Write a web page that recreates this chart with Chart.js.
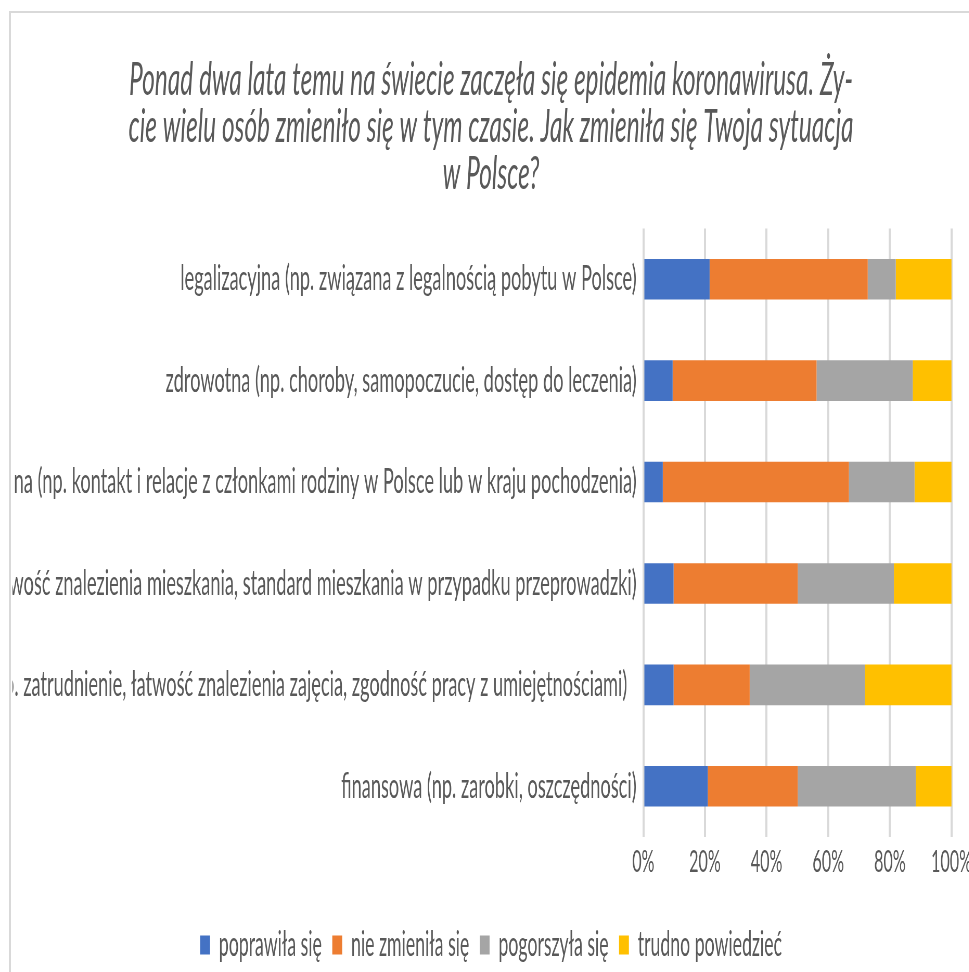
<!DOCTYPE html>
<html>
<head>
<meta charset="utf-8">
<script src="https://cdn.jsdelivr.net/npm/chart.js@4.4.1/dist/chart.umd.min.js"></script>
<style>
html,body{margin:0;padding:0;width:969px;height:972px;overflow:hidden;background:#ffffff;}
#frame{position:absolute;left:9px;top:11px;width:2000px;height:2000px;border-left:2px solid #d9d9d9;border-top:2px solid #d9d9d9;}
#wrap{position:absolute;left:0;top:0;height:972px;transform-origin:0 0;}
</style>
</head>
<body>
<div id="frame"></div>
<div id="wrap"><canvas id="c"></canvas></div>
<script>
// ---- data ----
const categories = [
  "legalizacyjna (np. związana z legalnością pobytu w Polsce)",
  "zdrowotna (np. choroby, samopoczucie, dostęp do leczenia)",
  "rodzinna (np. kontakt i relacje z członkami rodziny w Polsce lub w kraju pochodzenia)",
  "mieszkaniowa (np. łatwość znalezienia mieszkania, standard mieszkania w przypadku przeprowadzki)",
  "zawodowa (np. zatrudnienie, łatwość znalezienia zajęcia, zgodność pracy z umiejętnościami)  ",
  "finansowa (np. zarobki, oszczędności)"
];
const seriesNames = ["poprawiła się", "nie zmieniła się", "pogorszyła się", "trudno powiedzieć"];
const improved   = [21.5,  9.5,  6.3,  9.8,  9.8, 20.9];
const unchanged  = [51.3, 46.7, 60.4, 40.3, 24.7, 29.2];
const worsened   = [ 9.1, 31.2, 21.3, 31.2, 37.4, 38.3];
const hardToSay  = [18.1, 12.6, 12.0, 18.7, 28.1, 11.6];
const xTicks = [0, 20, 40, 60, 80, 100];
const titleLines = [
  "Ponad dwa lata temu na świecie zaczęła się epidemia koronawirusa. Ży-",
  "cie wielu osób zmieniło się w tym czasie. Jak zmieniła się Twoja sytuacja",
  "w Polsce?"
];
const colors = ["#4472C4", "#ED7D31", "#A5A5A5", "#FFC000"];

// ---- layout (horizontal squeeze like the reference) ----
const S = 0.52;
const W = 969 / S;
const wrap = document.getElementById('wrap');
wrap.style.width = W + 'px';
wrap.style.transform = 'scaleX(' + S + ')';

const PAD_LEFT = 24;
const AXIS_X0 = 643 / S;
const AXIS_X1 = 951 / S;

Chart.defaults.font.family = 'Lato';
Chart.defaults.color = '#595959';

const values = [improved, unchanged, worsened, hardToSay];
new Chart(document.getElementById('c'), {
  type: 'bar',
  data: {
    labels: categories,
    datasets: values.map((v, i) => ({
      label: seriesNames[i],
      data: v,
      backgroundColor: colors[i],
      borderWidth: 0,
      barPercentage: 0.4,
      categoryPercentage: 1.0
    }))
  },
  options: {
    indexAxis: 'y',
    responsive: true,
    maintainAspectRatio: false,
    animation: false,
    layout: { padding: { left: PAD_LEFT, right: 0, top: 0, bottom: 0 } },
    scales: {
      x: {
        stacked: true,
        min: 0, max: 100,
        afterBuildTicks: (s) => { s.ticks = xTicks.map(v => ({ value: v })); },
        ticks: { callback: (v) => v + '%', color: '#595959', font: { size: 31 }, padding: 6, maxRotation: 0, autoSkip: false },
        grid: { color: '#d9d9d9', lineWidth: 4, drawTicks: false },
        border: { display: false },
        afterFit: (s) => { s.paddingRight = W - AXIS_X1; s.paddingLeft = 0; s.height = 71; }
      },
      y: {
        stacked: true,
        ticks: { color: '#595959', font: { size: 35 }, padding: 13, autoSkip: false },
        grid: { display: false, drawTicks: false },
        border: { display: false },
        afterFit: (s) => { s.width = AXIS_X0 - PAD_LEFT; }
      }
    },
    plugins: {
      title: {
        display: true,
        text: titleLines,
        color: '#595959',
        font: { size: 47, style: 'italic', weight: 'normal', lineHeight: 1 },
        padding: { top: 56.5, bottom: 31 }
      },
      legend: {
        position: 'bottom',
        labels: { boxWidth: 19, boxHeight: 19, color: '#595959', font: { size: 34 }, padding: 20 }
      },
      tooltip: { enabled: false }
    }
  }
});
</script>
</body>
</html>
